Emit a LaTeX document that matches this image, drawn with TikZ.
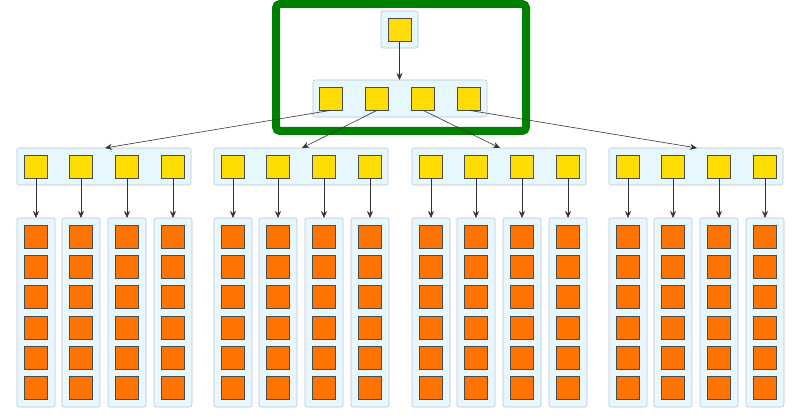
\documentclass[tikz,border=0pt]{standalone}
\usetikzlibrary{arrows.meta}
\begin{document}
\begin{tikzpicture}[x=1pt,y=-1pt,
  cont/.style={draw=blue!25!gray!40,fill=cyan!10,rounded corners=2pt,line width=0.6pt},
  ysq/.style={draw=black!70,fill=yellow!80!orange,minimum size=23pt,inner sep=0,line width=0.6pt},
  osq/.style={draw=black!70,fill=orange!90!red,minimum size=23pt,inner sep=0,line width=0.6pt},
  arr/.style={-{Stealth[length=7pt,width=6pt]},draw=black!80,line width=0.6pt}]
\useasboundingbox (0,0) rectangle (800,419);
\draw[green!50!black,line width=8pt,rounded corners=4pt] (276,4) rectangle (526,131);
\draw[cont] (381,11) rectangle (418,48);
\node[ysq] (r) at (399.5,30) {};
\draw[cont] (313,80) rectangle (487,117);
\foreach \i/\x in {1/331,2/377,3/423,4/469} \node[ysq] (m\i) at (\x,98.5) {};
\draw[arr] (r.south) -- (399.5,80);
\foreach \g/\s in {1/17,2/214,3/412,4/609}{
  \draw[cont] (\s,148) rectangle ++(174,37);
  \coordinate (t\g) at (\s+88,148);
  \foreach \c/\dx in {1/19,2/64,3/110,4/156}{
    \node[ysq] (q\g\c) at (\s+\dx,166.5) {};
    \draw[cont] (\s+\dx-19,218) rectangle ++(38,189);
    \coordinate (c\g\c) at (\s+\dx,218);
    \draw[arr] (q\g\c.south) -- (c\g\c);
    \foreach \k in {0,...,5} \node[osq] (o\g\c\k) at (\s+\dx,236.5+30.3*\k) {};
  }
}
\draw[arr] (m1.south) -- (t1);
\draw[arr] (m2.south) -- (t2);
\draw[arr] (m3.south) -- (t3);
\draw[arr] (m4.south) -- (t4);
\end{tikzpicture}
\end{document}
